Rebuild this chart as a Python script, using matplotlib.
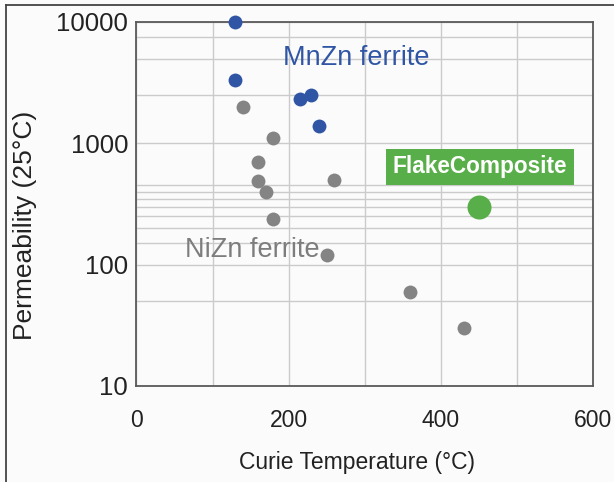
import matplotlib
matplotlib.use("Agg")
import matplotlib.pyplot as plt
from matplotlib.lines import Line2D
from matplotlib.ticker import FixedLocator, NullFormatter

plt.rcParams['font.family'] = ['Liberation Sans', 'DejaVu Sans']

# MnZn ferrite (blue)
mnzn_tc = [130, 130, 215, 230, 240]
mnzn_mu = [10000, 3300, 2300, 2500, 1400]

# NiZn ferrite (gray)
nizn_tc = [140, 180, 160, 160, 170, 260, 180, 250, 360, 430]
nizn_mu = [2000, 1100, 700, 490, 400, 500, 240, 120, 60, 30]

# Flake composite (green)
flake_tc = [450]
flake_mu = [300]

x_major = [0, 200, 400, 600]
x_minor = [100, 300, 500]
y_major = [10, 100, 1000, 10000]
y_minor = [50, 150, 200, 250, 300, 350, 400, 450, 2500, 5000, 7500]

blue = '#2f55a4'
gray = '#848484'
green = '#58ae48'
bg = '#fbfbfb'
grid_c = '#cbcbcb'

fig = plt.figure(figsize=(6.14, 4.82), dpi=100, facecolor=bg)
ax = fig.add_axes([0.2223, 0.1992, 0.7435, 0.7552])
ax.set_facecolor(bg)

ax.set_yscale('log')
ax.set_xlim(0, 600)
ax.set_ylim(10, 10000)

ax.xaxis.set_major_locator(FixedLocator(x_major))
ax.xaxis.set_minor_locator(FixedLocator(x_minor))
ax.yaxis.set_major_locator(FixedLocator(y_major))
ax.yaxis.set_minor_locator(FixedLocator(y_minor))
ax.yaxis.set_minor_formatter(NullFormatter())
ax.set_yticklabels([str(v) for v in y_major])
ax.set_xticklabels([str(v) for v in x_major])

ax.grid(True, which='both', color=grid_c, linewidth=1.0)
ax.set_axisbelow(True)
ax.tick_params(which='both', length=0)
ax.tick_params(axis='x', labelsize=16.5, pad=16.5, colors='#222222')
ax.tick_params(axis='y', labelsize=18.5, pad=6, colors='#222222')

for s in ax.spines.values():
    s.set_color('#5a5a5a')
    s.set_linewidth(1.3)

ax.scatter(nizn_tc, nizn_mu, s=100, color=gray, linewidths=0, zorder=3,
           clip_on=False)
ax.scatter(mnzn_tc, mnzn_mu, s=100, color=blue, linewidths=0, zorder=3,
           clip_on=False)
ax.scatter(flake_tc, flake_mu, s=300, color=green, linewidths=0, zorder=3,
           clip_on=False)

ax.text(289, 4400, 'MnZn ferrite', color=blue, fontsize=19.5,
        ha='center', va='baseline', zorder=4)
ax.text(152, 115, 'NiZn ferrite', color='#7d7d7d', fontsize=19.5,
        ha='center', va='baseline', zorder=2)
ax.text(451, 640, 'FlakeComposite', color='white', fontsize=16.3,
        fontweight='bold', ha='center', va='center', zorder=4,
        bbox=dict(boxstyle='square,pad=0.3', facecolor=green,
                  edgecolor='none'))

ax.set_xlabel('Curie Temperature (°C)', fontsize=16.5, color='#222222',
              va='center')
ax.xaxis.set_label_coords(0.483, -0.2115)
ax.set_ylabel('Permeability (25°C)', fontsize=19, color='#222222',
              va='center')
ax.yaxis.set_label_coords(-0.244, 0.442)

# thin frame around the picture (top and left edges)
fig.add_artist(Line2D([6 / 614, 1], [1 - 5 / 482, 1 - 5 / 482],
                      transform=fig.transFigure, color='#444444', lw=1.3))
fig.add_artist(Line2D([6 / 614, 6 / 614], [0, 1 - 5 / 482],
                      transform=fig.transFigure, color='#444444', lw=1.3))

fig.savefig('out.png', dpi=100, facecolor=bg)
